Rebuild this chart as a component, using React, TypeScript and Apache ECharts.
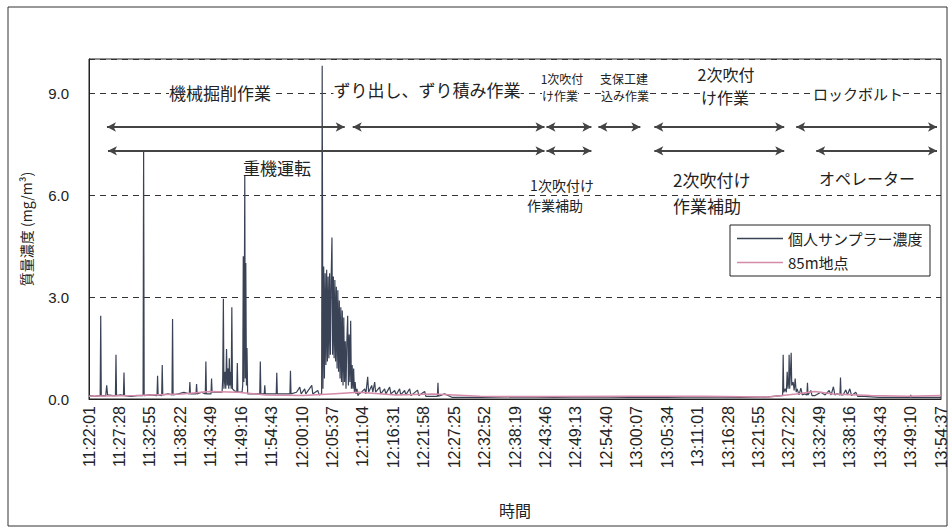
import React, { useEffect, useRef } from "react";
import * as echarts from "echarts";

// time axis: seconds elapsed since 11:22:01
const START_SECONDS = 11 * 3600 + 22 * 60 + 1;
const AXIS_END = 9156; // 13:54:37
const TICK_STEP = 327; // 5:27 between labels
const Y_MAX = 10;
const Y_STEP = 3;

const seriesNames = ["個人サンプラー濃度", "85m地点"];

// personal sampler concentration [seconds since start, mg/m3]
const personalData: [number, number][] = [
  [0, 0.1], [60, 0.08], [120, 0.1], [126, 2.45], [132, 0.1], [180, 0.1], [190, 0.4], [200, 0.12],
  [260, 0.1], [284, 0.1], [290, 1.3], [296, 0.1], [340, 0.12], [370, 0.1], [376, 0.78], [382, 0.1],
  [450, 0.08], [520, 0.1], [581, 0.1], [587, 7.3], [593, 0.1], [650, 0.12], [731, 0.1], [737, 0.68],
  [743, 0.12], [781, 0.1], [787, 1.0], [793, 0.12], [850, 0.15], [892, 0.12], [898, 2.35], [904, 0.12],
  [960, 0.15], [1020, 0.2], [1078, 0.15], [1084, 0.5], [1090, 0.15], [1150, 0.15], [1156, 0.44],
  [1162, 0.15], [1210, 0.2], [1250, 0.15], [1256, 1.1], [1262, 0.15], [1311, 0.15], [1317, 0.6],
  [1323, 0.2], [1380, 0.2], [1430, 0.2], [1437, 0.6], [1444, 2.95], [1450, 0.3], [1462, 0.8],
  [1470, 0.3], [1478, 1.47], [1486, 0.4], [1496, 0.9], [1502, 0.3], [1508, 1.2], [1515, 0.4],
  [1522, 0.8], [1528, 0.3], [1535, 2.7], [1542, 0.3], [1560, 0.25], [1588, 0.2], [1594, 1.06],
  [1600, 0.2], [1645, 0.2], [1652, 0.4], [1658, 4.2], [1664, 0.5], [1670, 3.4], [1674, 6.65],
  [1679, 0.6], [1685, 4.0], [1692, 0.4], [1698, 1.5], [1705, 0.15], [1780, 0.15], [1835, 0.15],
  [1841, 1.1], [1847, 0.15], [1883, 0.15], [1889, 0.4], [1895, 0.15], [1960, 0.15], [2012, 0.15],
  [2018, 0.77], [2024, 0.15], [2100, 0.15], [2159, 0.15], [2165, 0.83], [2171, 0.15], [2230, 0.2],
  [2265, 0.35], [2280, 0.15], [2318, 0.3], [2330, 0.15], [2394, 0.4], [2405, 0.15], [2458, 0.25],
  [2475, 0.12], [2500, 0.15],
  [2506, 9.8], [2514, 0.3], [2522, 3.9], [2530, 0.6], [2538, 3.7], [2546, 1.0], [2554, 3.8],
  [2562, 1.1], [2570, 3.6], [2578, 1.2], [2586, 3.7], [2594, 1.3], [2602, 3.5], [2611, 4.75],
  [2618, 1.3], [2626, 3.6], [2634, 1.2], [2642, 3.5], [2650, 1.1], [2658, 3.3], [2666, 0.9],
  [2674, 3.2], [2682, 0.8], [2690, 2.9], [2698, 0.6], [2706, 2.7], [2714, 0.5], [2722, 2.6],
  [2730, 0.4], [2738, 2.4], [2746, 0.5], [2754, 1.7], [2762, 0.3], [2770, 1.6], [2780, 2.45],
  [2788, 0.4], [2796, 1.9], [2804, 0.5], [2812, 2.3], [2820, 0.3], [2828, 1.0], [2836, 0.3],
  [2844, 0.9], [2852, 0.2], [2860, 0.5], [2870, 0.15], [2880, 0.3], [2890, 0.1],
  [2900, 0.15], [2930, 0.2], [2963, 0.3], [2975, 0.15], [2995, 0.65], [3005, 0.2], [3038, 0.4],
  [3050, 0.2], [3070, 0.5], [3080, 0.2], [3124, 0.35], [3135, 0.15], [3177, 0.3], [3190, 0.15],
  [3231, 0.35], [3245, 0.15], [3285, 0.25], [3300, 0.12], [3338, 0.3], [3350, 0.12], [3392, 0.25],
  [3405, 0.12], [3446, 0.3], [3460, 0.1], [3531, 0.26], [3545, 0.1], [3607, 0.22], [3620, 0.08],
  [3744, 0.08], [3750, 0.48], [3756, 0.08], [3821, 0.15], [3900, 0.05], [4200, 0.05], [4600, 0.06],
  [5000, 0.05], [5400, 0.06], [5800, 0.05], [6200, 0.05], [6600, 0.06], [7000, 0.05], [7300, 0.06],
  [7439, 0.1], [7454, 0.1], [7460, 1.3], [7466, 0.2], [7482, 0.3], [7494, 0.2], [7503, 0.8],
  [7512, 0.3], [7520, 0.6], [7524, 1.3], [7530, 0.3], [7540, 0.9], [7546, 1.36], [7552, 0.4],
  [7567, 0.5], [7578, 0.25], [7589, 0.6], [7600, 0.2], [7610, 0.3], [7630, 0.12], [7650, 0.32],
  [7665, 0.12], [7685, 0.15], [7715, 0.12], [7721, 0.48], [7727, 0.12], [7757, 0.25], [7770, 0.1],
  [7803, 0.1], [7865, 0.2], [7911, 0.12], [7954, 0.25], [7975, 0.12], [8000, 0.36], [8015, 0.12],
  [8040, 0.15], [8070, 0.12], [8076, 0.63], [8082, 0.12], [8104, 0.12], [8133, 0.27], [8150, 0.12],
  [8176, 0.3], [8195, 0.1], [8240, 0.2], [8260, 0.08], [8329, 0.08], [8491, 0.05], [8825, 0.05],
  [8831, 0.12], [8837, 0.05], [9156, 0.05],
];

// 85m point concentration
const point85Data: [number, number][] = [
  [0, 0.08], [500, 0.1], [1000, 0.15], [1300, 0.22], [1600, 0.2], [1900, 0.12], [2300, 0.1],
  [2600, 0.15], [2900, 0.2], [3300, 0.12], [3700, 0.15], [4200, 0.08], [5000, 0.07], [5800, 0.08],
  [6600, 0.08], [7300, 0.06], [7600, 0.15], [7800, 0.22], [8000, 0.15], [8400, 0.1], [8800, 0.08],
  [9156, 0.1],
];

// work phase arrows [start, end] in seconds since start
const phaseRow1: [number, number][] = [
  [193, 2748], [2834, 4895], [4916, 5399], [5474, 5925], [6075, 7471], [7600, 9113],
];
const phaseRow2: [number, number][] = [
  [204, 4895], [4916, 5399], [6075, 7471], [7815, 9113],
];
const ROW1_Y = 8.0;
const ROW2_Y = 7.3;

const FONT = "'Liberation Sans', 'Noto Sans CJK JP', sans-serif";
const JFONT = "'Noto Sans CJK JP', sans-serif";

function fmtTime(v: number): string {
  const s = START_SECONDS + Math.round(v);
  const h = Math.floor(s / 3600);
  const m = Math.floor((s % 3600) / 60);
  const sec = s % 60;
  return `${h}:${String(m).padStart(2, "0")}:${String(sec).padStart(2, "0")}`;
}

function label(text: string, x: number, y: number, fontSize: number, align = "center") {
  return {
    type: "text",
    x,
    y,
    z: 100,
    style: {
      text,
      fontSize,
      fontFamily: JFONT,
      fill: "#222",
      align,
      verticalAlign: "middle",
      backgroundColor: "#fff",
    },
  };
}

export default function App() {
  const ref = useRef<HTMLDivElement>(null);
  useEffect(() => {
    if (!ref.current) return;
    const chart = echarts.init(ref.current, undefined, { renderer: "svg" });
    const arrows = [
      ...phaseRow1.map(([a, b]) => [{ coord: [a, ROW1_Y] }, { coord: [b, ROW1_Y] }]),
      ...phaseRow2.map(([a, b]) => [{ coord: [a, ROW2_Y] }, { coord: [b, ROW2_Y] }]),
    ];
    chart.setOption({
      animation: false,
      backgroundColor: "#fff",
      textStyle: { fontFamily: FONT },
      grid: {
        left: 89,
        top: 59,
        right: 7,
        bottom: 131,
        show: true,
        borderColor: "#222",
        borderWidth: 1,
      },
      legend: {
        data: seriesNames.map((name) => ({ name, icon: "rect" })),
        orient: "vertical",
        left: 730,
        top: 225,
        padding: [6, 7, 6, 7],
        itemGap: 9,
        itemWidth: 46,
        itemHeight: 1.5,
        borderColor: "#222",
        borderWidth: 1,
        backgroundColor: "#fff",
        textStyle: { fontSize: 15, color: "#222", fontFamily: JFONT },
      },
      xAxis: {
        type: "value",
        min: 0,
        max: AXIS_END,
        interval: TICK_STEP,
        name: "時間",
        nameLocation: "middle",
        nameGap: 103,
        nameTextStyle: { fontSize: 16, color: "#222", fontFamily: JFONT },
        axisLine: { show: true, lineStyle: { color: "#222" } },
        axisTick: { show: false },
        splitLine: { show: false },
        axisLabel: {
          rotate: 90,
          formatter: (v: number) => fmtTime(v),
          fontSize: 16,
          color: "#222",
          margin: 7,
          showMinLabel: true,
          showMaxLabel: true,
        },
      },
      yAxis: {
        type: "value",
        min: 0,
        max: Y_MAX,
        interval: Y_STEP,
        name: "質量濃度 (mg/m³)",
        nameLocation: "middle",
        nameGap: 56,
        nameTextStyle: { fontSize: 14, color: "#222", fontFamily: JFONT },
        axisLine: { show: true, lineStyle: { color: "#222" } },
        axisTick: { show: false },
        axisLabel: {
          formatter: (v: number) => v.toFixed(1),
          fontSize: 15,
          color: "#222",
          margin: 20,
          showMaxLabel: false,
        },
        splitLine: { show: true, lineStyle: { color: "#333", type: [6, 5], width: 1 } },
      },
      series: [
        {
          name: seriesNames[0],
          type: "line",
          data: personalData,
          symbol: "none",
          lineStyle: { color: "#3a4356", width: 1.2 },
          itemStyle: { color: "#3a4356" },
          z: 2,
          markLine: {
            silent: true,
            symbol: ["arrow", "arrow"],
            symbolSize: [7, 9],
            label: { show: false },
            lineStyle: { color: "#444", width: 2, type: "solid" },
            data: arrows,
          },
        },
        {
          name: seriesNames[1],
          type: "line",
          data: point85Data,
          symbol: "none",
          lineStyle: { color: "#d48aa8", width: 1.5 },
          itemStyle: { color: "#d48aa8" },
          z: 3,
        },
      ],
      graphic: [
        {
          type: "rect",
          z: 0,
          shape: { x: 8, y: 7, width: 939, height: 519 },
          style: { fill: "none", stroke: "#333", lineWidth: 1 },
        },
        label("機械掘削作業", 220, 92, 17),
        label("ずり出し、ずり積み作業", 427, 89, 17),
        label("1次吹付", 562, 78, 12),
        label("け作業", 560, 95, 12),
        label("支保工建", 624, 78, 12),
        label("込み作業", 625, 95, 12),
        label("2次吹付", 726, 74, 16),
        label("け作業", 725, 97, 16),
        label("ロックボルト", 858, 93, 15),
        label("重機運転", 277, 167, 17),
        label("1次吹付け", 562, 185, 14),
        label("作業補助", 555, 205, 14),
        label("2次吹付け", 673, 179, 17, "left"),
        label("作業補助", 673, 205, 17, "left"),
        label("オペレーター", 867, 178, 16),
      ],
    });
    return () => chart.dispose();
  }, []);
  return <div ref={ref} style={{ position: "fixed", left: 0, top: 0, width: 949, height: 530 }} />;
}
